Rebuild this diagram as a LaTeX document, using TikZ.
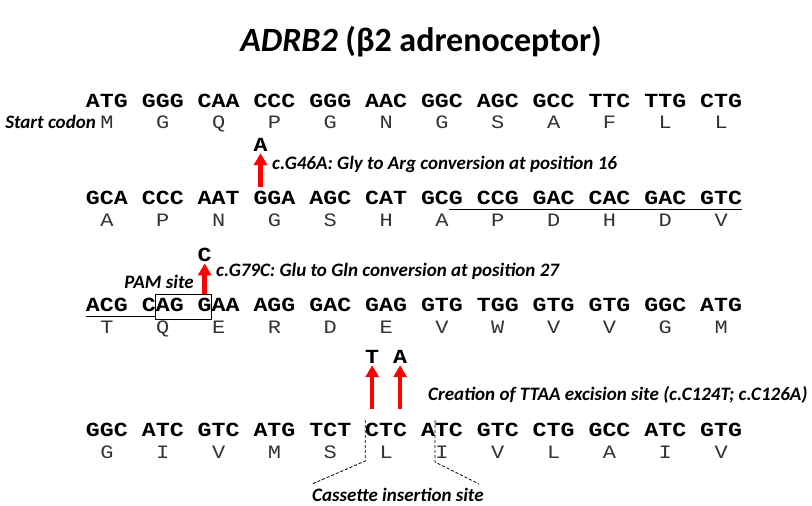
\documentclass[tikz,border=0pt]{standalone}
\usepackage{fontspec}
\usetikzlibrary{arrows.meta}
\newfontfamily\dnafont{Liberation Mono}[BoldFont={* Bold}]
\newfontfamily\calfont{Carlito}
\newcommand{\sq}[1]{\scalebox{1}[0.86]{#1}}
\tikzset{
  dna/.style={anchor=base, inner sep=0pt, font=\dnafont\bfseries\fontsize{23.27}{24}\selectfont},
  prot/.style={anchor=base, inner sep=0pt, text=black!80, font=\dnafont\fontsize{22}{24}\selectfont},
  lbl/.style={inner sep=0pt, font=\calfont\bfseries\itshape\fontsize{19}{22}\selectfont},
  mutarrow/.style={red, line width=4.5pt, -{Triangle[width=13pt,length=12pt]}, shorten >=2pt},
  uline/.style={line width=1.8pt},
  cutline/.style={line width=0.8pt, dash pattern=on 3pt off 2pt},
}
\newcommand{\cx}[1]{86+(#1)*13.96}
\begin{document}
\begin{tikzpicture}[x=1pt,y=-1pt]
\useasboundingbox (0,0) rectangle (812,506);
% title
\node[anchor=base, inner sep=0pt, font=\calfont\bfseries\fontsize{34}{40}\selectfont] (title) at (421,51) {\textit{ADRB2} (β2 adrenoceptor)};
% row 1
\foreach \c [count=\i from 0] in {ATG,GGG,CAA,CCC,GGG,AAC,GGC,AGC,GCC,TTC,TTG,CTG}
  \node[dna] (a\i) at ({\cx{4*\i+1.5}},107) {\sq{\c}};
\foreach \c [count=\i from 0] in {M,G,Q,P,G,N,G,S,A,F,L,L}
  \node[prot] (p\i) at ({\cx{4*\i+1.5}},128) {\sq{\c}};
\node[lbl, anchor=base east] (start) at (96,128) {Start codon};
% row 2
\foreach \c [count=\i from 0] in {GCA,CCC,AAT,GGA,AGC,CAT,GCG,CCG,GAC,CAC,GAC,GTC}
  \node[dna] (b\i) at ({\cx{4*\i+1.5}},204) {\sq{\c}};
\foreach \c [count=\i from 0] in {A,P,N,G,S,H,A,P,D,H,D,V}
  \node[prot] (q\i) at ({\cx{4*\i+1.5}},226) {\sq{\c}};
\coordinate (u2a) at ({\cx{26}},209.5);
\coordinate (u2b) at ({\cx{47}},209.5);
\draw[uline] (u2a) -- (u2b);
\node[dna] (mutA) at ({\cx{12.5}},151) {\sq{A}};
\coordinate (t1) at ({\cx{12.5}},187);
\draw[mutarrow] (t1) -- (mutA.south);
\node[lbl, anchor=west] (lab1) at (272,164) {c.G46A: Gly to Arg conversion at position 16};
% row 3
\foreach \c [count=\i from 0] in {ACG,CAG,GAA,AGG,GAC,GAG,GTG,TGG,GTG,GTG,GGC,ATG}
  \node[dna] (c\i) at ({\cx{4*\i+1.5}},311) {\sq{\c}};
\foreach \c [count=\i from 0] in {T,Q,E,R,D,E,V,W,V,V,G,M}
  \node[prot] (r\i) at ({\cx{4*\i+1.5}},333) {\sq{\c}};
\coordinate (u3a) at ({\cx{0}},316.5);
\coordinate (u3b) at ({\cx{5}},316.5);
\draw[uline] (u3a) -- (u3b);
\coordinate (pamA) at ({\cx{5}},294);
\coordinate (pamB) at ({\cx{9}},319);
\draw[line width=0.8pt] (pamA) rectangle (pamB);
\node[lbl, anchor=east] (pam) at (194,282) {PAM site};
\node[dna] (mutC) at ({\cx{8.5}},261) {\sq{C}};
\coordinate (t2) at ({\cx{8.5}},294);
\draw[mutarrow] (t2) -- (mutC.south);
\node[lbl, anchor=west] (lab2) at (216,271) {c.G79C: Glu to Gln conversion at position 27};
% row 4
\foreach \c [count=\i from 0] in {GGC,ATC,GTC,ATG,TCT,CTC,ATC,GTC,CTG,GCC,ATC,GTG}
  \node[dna] (e\i) at ({\cx{4*\i+1.5}},436) {\sq{\c}};
\foreach \c [count=\i from 0] in {G,I,V,M,S,L,I,V,L,A,I,V}
  \node[prot] (s\i) at ({\cx{4*\i+1.5}},458) {\sq{\c}};
\node[dna] (mutT) at ({\cx{20.5}},363) {\sq{T}};
\node[dna] (mutA2) at ({\cx{22.5}},363) {\sq{A}};
\coordinate (t3) at ({\cx{20.5}},409);
\coordinate (t4) at ({\cx{22.5}},409);
\draw[mutarrow] (t3) -- (mutT.south);
\draw[mutarrow] (t4) -- (mutA2.south);
\node[lbl, anchor=west] (lab3) at (428,395) {Creation of TTAA excision site (c.C124T; c.C126A)};
% cassette insertion
\node[lbl, anchor=base] (cas) at (398,501) {Cassette insertion site};
\coordinate (kL1) at ({\cx{20}},420);
\coordinate (kL2) at ({\cx{20}},461);
\coordinate (kL3) at (312,484);
\coordinate (kR1) at ({\cx{25}},420);
\coordinate (kR2) at ({\cx{25}},462);
\coordinate (kR3) at (479,484);
\draw[cutline] (kL1) -- (kL2) -- (kL3);
\draw[cutline] (kR1) -- (kR2) -- (kR3);
\end{tikzpicture}
\end{document}
